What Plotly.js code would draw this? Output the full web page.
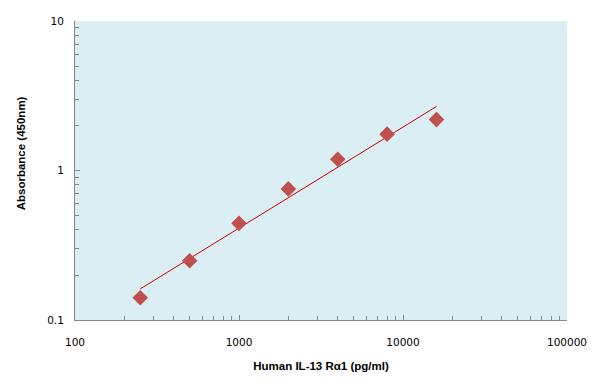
<!DOCTYPE html>
<html>
<head>
<meta charset="utf-8">
<script src="https://cdn.plot.ly/plotly-3.0.1.min.js"></script>
<style>html,body{margin:0;padding:0;background:#fff;}#chart{width:596px;height:390px;}</style>
</head>
<body>
<div id="chart"></div>
<script>
// Data
const concentration = [250, 500, 1000, 2000, 4000, 8000, 16000];   // pg/ml
const absorbance    = [0.141, 0.249, 0.443, 0.753, 1.188, 1.75, 2.19]; // OD 450nm
const xTickVals = [100, 1000, 10000, 100000];
const xTickText = ["100", "1000", "10000", "100000"];
const yTickVals = [0.1, 1, 10];
const yTickText = ["0.1", "1", "10"];
const xTitle = "Human IL-13 Rα1 (pg/ml)";
const yTitle = "Absorbance (450nm)";

// Power trendline (least squares in log-log space) computed from the data
const lx = concentration.map(Math.log10), ly = absorbance.map(Math.log10);
const n = lx.length;
const mx = lx.reduce((a,b)=>a+b,0)/n, my = ly.reduce((a,b)=>a+b,0)/n;
let sxy = 0, sxx = 0;
for (let i=0;i<n;i++){ sxy += (lx[i]-mx)*(ly[i]-my); sxx += (lx[i]-mx)**2; }
const slope = sxy/sxx, icpt = my - slope*mx;
const fitX = [concentration[0], concentration[n-1]];
const fitY = fitX.map(x => Math.pow(10, icpt + slope*Math.log10(x)));

function minorVals(lo, hi){
  const v=[]; for(let d=lo; d<hi; d*=10){ for(let k=2;k<=9;k++) v.push(d*k); } return v;
}

const traces = [
  {x: fitX, y: fitY, mode:'lines', line:{color:'#CC0000', width:1}, hoverinfo:'skip', showlegend:false},
  {x: concentration, y: absorbance, mode:'markers', showlegend:false,
   marker:{symbol:'diamond', size:12, color:'#C0504D', line:{width:0}}}
];

const axisCommon = {
  showgrid:false, zeroline:false, showline:true, linecolor:'#868686', linewidth:1,
  ticks:'inside', ticklen:5, tickcolor:'#868686', tickwidth:1,
  tickfont:{family:'DejaVu Sans, sans-serif', size:10.5, color:'#000'},
  mirror:false
};

const layout = {
  width:596, height:390,
  margin:{l:75, r:29, t:21, b:70},
  paper_bgcolor:'#ffffff', plot_bgcolor:'#DBEEF3',
  xaxis: Object.assign({}, axisCommon, {
    type:'log', range:[2,5], tickvals:xTickVals, ticktext:xTickText, ticklabelstandoff:12,
    minor:{tickvals:minorVals(100,100000), ticks:'inside', ticklen:4, tickcolor:'#868686', showgrid:false},
    title:{text:xTitle, font:{family:'Liberation Sans, Arial, sans-serif', size:11.5, color:'#000', weight:'bold'}, standoff:15}
  }),
  yaxis: Object.assign({}, axisCommon, {
    type:'log', range:[-1,1], tickvals:yTickVals, ticktext:yTickText, ticklabelstandoff:8,
    minor:{tickvals:minorVals(0.1,10), ticks:'inside', ticklen:4, tickcolor:'#868686', showgrid:false}
  }),
  annotations:[{
    text:yTitle, textangle:-90, xref:'paper', yref:'paper', x:-0.108, y:0.557, xanchor:'center', yanchor:'middle',
    showarrow:false, font:{family:'Liberation Sans, Arial, sans-serif', size:11.5, color:'#000', weight:'bold'}
  }]
};

Plotly.newPlot('chart', traces, layout, {displayModeBar:false, staticPlot:true});
</script>
</body>
</html>
